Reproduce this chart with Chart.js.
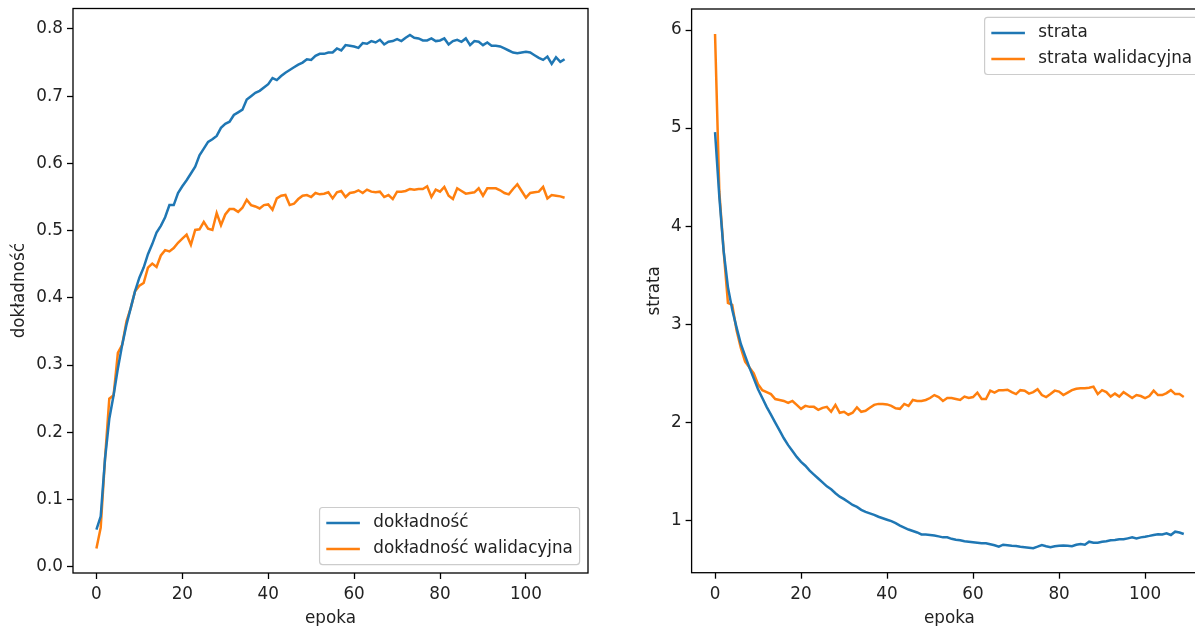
<!DOCTYPE html>
<html lang="pl">
<head>
<meta charset="utf-8">
<title>dokładność i strata</title>
<script src="https://cdn.jsdelivr.net/npm/chart.js@4.4.1/dist/chart.umd.min.js"></script>
<style>
    html, body { margin: 0; padding: 0; background: #fff; width: 1195px; height: 626px; overflow: hidden; }
    .panel { position: absolute; top: 0; }
    #accPanel { left: 0; }
    #lossPanel { left: 600px; }
</style>
</head>
<body>
<div class="panel" id="accPanel"><canvas id="accChart" width="600" height="640"></canvas></div>
<div class="panel" id="lossPanel"><canvas id="lossChart" width="620" height="640"></canvas></div>
<script>
// Kolory (domyślne matplotlib)
const colors = {
    blue: '#1f77b4',
    orange: '#ff7f0e',
    text: '#222222'
};

// Dane
const accuracy = [
    0.055, 0.075, 0.16, 0.22, 0.255, 0.295, 0.33, 0.36, 0.385, 0.41,
    0.43, 0.445, 0.465, 0.48, 0.497, 0.507, 0.52, 0.538, 0.538, 0.556,
    0.566, 0.575, 0.585, 0.595, 0.612, 0.622, 0.632, 0.636, 0.641, 0.653,
    0.659, 0.662, 0.672, 0.676, 0.68, 0.695, 0.7, 0.705, 0.708, 0.713,
    0.718, 0.727, 0.724, 0.73, 0.735, 0.739, 0.743, 0.747, 0.75, 0.755,
    0.754, 0.76, 0.763, 0.763, 0.765, 0.765, 0.771, 0.768, 0.776, 0.775,
    0.774, 0.772, 0.779, 0.778, 0.782, 0.78, 0.784, 0.777, 0.781, 0.782,
    0.785, 0.782, 0.787, 0.791, 0.787, 0.786, 0.783, 0.783, 0.786, 0.782,
    0.783, 0.786, 0.777, 0.782, 0.784, 0.781, 0.786, 0.776, 0.782, 0.781,
    0.776, 0.78, 0.775, 0.775, 0.774, 0.771, 0.768, 0.765, 0.764, 0.765,
    0.766, 0.765, 0.761, 0.757, 0.754, 0.759, 0.748, 0.758, 0.751, 0.755
];
const valAccuracy = [
    0.027, 0.058, 0.16, 0.25, 0.255, 0.318, 0.33, 0.365, 0.385, 0.41,
    0.418, 0.422, 0.445, 0.451, 0.446, 0.463, 0.471, 0.469, 0.474, 0.482,
    0.488, 0.494, 0.479, 0.501, 0.502, 0.513, 0.503, 0.501, 0.526, 0.508,
    0.524, 0.532, 0.532, 0.528, 0.534, 0.546, 0.538, 0.536, 0.533, 0.538,
    0.539, 0.531, 0.548, 0.552, 0.553, 0.538, 0.54, 0.547, 0.552, 0.553,
    0.55, 0.556, 0.554, 0.555, 0.557, 0.548, 0.557, 0.559, 0.55, 0.556,
    0.557, 0.56, 0.556, 0.561, 0.558, 0.557, 0.558, 0.55, 0.553, 0.547,
    0.558, 0.558, 0.559, 0.562, 0.561, 0.562, 0.562, 0.566, 0.55, 0.561,
    0.558, 0.565, 0.552, 0.547, 0.563, 0.559, 0.555, 0.556, 0.557, 0.563,
    0.552, 0.563, 0.563, 0.563, 0.56, 0.556, 0.554, 0.562, 0.569, 0.559,
    0.549, 0.556, 0.557, 0.558, 0.565, 0.548, 0.553, 0.552, 0.551, 0.549
];
const loss = [
    4.96, 4.3, 3.75, 3.38, 3.15, 2.97, 2.8, 2.68, 2.56, 2.45,
    2.34, 2.25, 2.16, 2.08, 2.0, 1.92, 1.84, 1.77, 1.71, 1.65,
    1.6, 1.56, 1.51, 1.47, 1.43, 1.39, 1.35, 1.32, 1.28, 1.245,
    1.22, 1.19, 1.16, 1.14, 1.11, 1.09, 1.075, 1.06, 1.04, 1.025,
    1.01, 0.995, 0.975, 0.95, 0.93, 0.91, 0.895, 0.88, 0.86, 0.858,
    0.855, 0.85, 0.84, 0.83, 0.83, 0.815, 0.805, 0.8, 0.79, 0.785,
    0.78, 0.775, 0.77, 0.77, 0.76, 0.75, 0.735, 0.755, 0.75, 0.745,
    0.742, 0.735, 0.73, 0.725, 0.72, 0.735, 0.752, 0.74, 0.73, 0.74,
    0.745, 0.747, 0.745, 0.74, 0.755, 0.763, 0.755, 0.786, 0.775, 0.776,
    0.785, 0.79, 0.8, 0.803, 0.81, 0.81, 0.82, 0.83, 0.82, 0.83,
    0.837, 0.845, 0.855, 0.861, 0.86, 0.871, 0.854, 0.888, 0.88, 0.864
];
const valLoss = [
    5.96, 4.35, 3.75, 3.22, 3.2, 2.94, 2.76, 2.62, 2.56, 2.5,
    2.39, 2.33, 2.31, 2.29, 2.24, 2.23, 2.22, 2.2, 2.22, 2.18,
    2.14, 2.17, 2.16, 2.16, 2.13, 2.15, 2.16, 2.11, 2.18, 2.1,
    2.11, 2.08, 2.1, 2.155, 2.11, 2.12, 2.15, 2.18, 2.19, 2.19,
    2.185, 2.17, 2.145, 2.14, 2.19, 2.17, 2.23, 2.22, 2.22, 2.23,
    2.25, 2.28, 2.26, 2.22, 2.25, 2.25, 2.24, 2.23, 2.265, 2.25,
    2.26, 2.305, 2.24, 2.24, 2.325, 2.305, 2.33, 2.33, 2.335, 2.31,
    2.29, 2.33, 2.325, 2.295, 2.31, 2.34, 2.28, 2.26, 2.29, 2.325,
    2.315, 2.28, 2.305, 2.33, 2.345, 2.35, 2.35, 2.355, 2.366, 2.29,
    2.33, 2.31, 2.264, 2.295, 2.265, 2.31, 2.28, 2.25, 2.28, 2.27,
    2.25, 2.27, 2.325, 2.28, 2.28, 2.3, 2.33, 2.29, 2.29, 2.26
];
const epochs = accuracy.map((_, i) => i);

// Etykiety osi
const epochTicks = [0, 20, 40, 60, 80, 100];
const accTicks = [0.0, 0.1, 0.2, 0.3, 0.4, 0.5, 0.6, 0.7, 0.8];
const lossTicks = [1, 2, 3, 4, 5, 6];

const FONT_SIZE = 16.8;
Chart.defaults.font.family = '"DejaVu Sans", sans-serif';
Chart.defaults.font.size = FONT_SIZE;
Chart.defaults.color = colors.text;

// Ramka wokół obszaru wykresu
const framePlugin = {
    id: 'frame',
    afterDraw(chart) {
        const { ctx, chartArea: a } = chart;
        ctx.save();
        ctx.strokeStyle = '#000';
        ctx.lineWidth = 1.3;
        ctx.strokeRect(a.left, a.top, a.right - a.left, a.bottom - a.top);
        ctx.restore();
    }
};

// Legenda w stylu matplotlib (w środku obszaru wykresu)
const boxLegend = {
    id: 'boxLegend',
    afterDatasetsDraw(chart, args, opts) {
        const { ctx, chartArea: a } = chart;
        const fs = FONT_SIZE;
        const sets = chart.data.datasets;
        ctx.save();
        ctx.font = fs + 'px "DejaVu Sans"';
        const textW = Math.max(...sets.map(d => ctx.measureText(d.label).width));
        const pad = 0.4 * fs, handle = 2 * fs, gap = 0.8 * fs;
        const rowH = 1.05 * fs, spacing = 0.5 * fs;
        const w = 2 * pad + handle + gap + textW;
        const h = 2 * pad + sets.length * rowH + (sets.length - 1) * spacing;
        const x = a.right - 0.5 * fs - w;
        const y = opts.corner === 'lower' ? a.bottom - 0.5 * fs - h : a.top + 0.5 * fs;

        ctx.beginPath();
        ctx.roundRect(x, y, w, h, 3);
        ctx.fillStyle = 'rgba(255,255,255,0.8)';
        ctx.fill();
        ctx.strokeStyle = '#cccccc';
        ctx.lineWidth = 1.2;
        ctx.stroke();

        sets.forEach((d, i) => {
            const cy = y + pad + rowH / 2 + i * (rowH + spacing);
            ctx.beginPath();
            ctx.moveTo(x + pad, cy);
            ctx.lineTo(x + pad + handle, cy);
            ctx.strokeStyle = d.borderColor;
            ctx.lineWidth = 2.4;
            ctx.stroke();
            ctx.fillStyle = colors.text;
            ctx.textBaseline = 'middle';
            ctx.textAlign = 'left';
            ctx.fillText(d.label, x + pad + handle + gap, cy);
        });
        ctx.restore();
    }
};

function tickGrid() {
    return { drawOnChartArea: false, drawTicks: true, tickLength: 6, tickColor: '#000', tickWidth: 1.3 };
}

function lineSet(label, values, color) {
    return {
        label: label,
        data: values,
        borderColor: color,
        backgroundColor: color,
        borderWidth: 2.5,
        pointRadius: 0,
        tension: 0,
        fill: false
    };
}

function xAxis(height) {
    return {
        type: 'linear',
        min: -5.45,
        max: 114.45,
        afterBuildTicks: s => { s.ticks = epochTicks.map(v => ({ value: v })); },
        afterFit: s => { s.height = height; s.paddingLeft = 0; s.paddingRight = 0; },
        grid: tickGrid(),
        border: { display: false },
        ticks: { padding: 6, maxRotation: 0, autoSkip: false, callback: v => String(v) },
        title: { display: true, text: 'epoka', padding: { top: 0, bottom: 11.6 } }
    };
}

function yAxis(min, max, tickValues, width, title, titlePad, fmt) {
    return {
        type: 'linear',
        min: min,
        max: max,
        afterBuildTicks: s => { s.ticks = tickValues.map(v => ({ value: v })); },
        afterFit: s => { s.width = width; s.paddingTop = 0; s.paddingBottom = 0; },
        grid: tickGrid(),
        border: { display: false },
        ticks: { padding: 4, callback: fmt },
        title: { display: true, text: title, padding: { top: titlePad, bottom: 0 } }
    };
}

// Wykres dokładności
function initializeAccuracyChart() {
    new Chart(document.getElementById('accChart'), {
        type: 'line',
        data: {
            labels: epochs,
            datasets: [
                lineSet('dokładność', accuracy, colors.blue),
                lineSet('dokładność walidacyjna', valAccuracy, colors.orange)
            ]
        },
        options: {
            responsive: false,
            animation: false,
            events: [],
            layout: { padding: { left: 0, right: 12, top: 8.5, bottom: 0 } },
            scales: {
                x: xAxis(67),
                y: yAxis(-0.0094, 0.8305, accTicks, 73, 'dokładność', 9.4, v => Number(v).toFixed(1))
            },
            plugins: {
                legend: { display: false },
                tooltip: { enabled: false },
                boxLegend: { corner: 'lower' }
            }
        },
        plugins: [framePlugin, boxLegend]
    });
}

// Wykres straty
function initializeLossChart() {
    new Chart(document.getElementById('lossChart'), {
        type: 'line',
        data: {
            labels: epochs,
            datasets: [
                lineSet('strata', loss, colors.blue),
                lineSet('strata walidacyjna', valLoss, colors.orange)
            ]
        },
        options: {
            responsive: false,
            animation: false,
            events: [],
            layout: { padding: { left: 0, right: 12.8, top: 9, bottom: 0 } },
            scales: {
                x: xAxis(67.3),
                y: yAxis(0.47, 6.214, lossTicks, 91.6, 'strata', 44.4, v => String(v))
            },
            plugins: {
                legend: { display: false },
                tooltip: { enabled: false },
                boxLegend: { corner: 'upper' }
            }
        },
        plugins: [framePlugin, boxLegend]
    });
}

document.addEventListener('DOMContentLoaded', () => {
    initializeAccuracyChart();
    initializeLossChart();
});
</script>
</body>
</html>
